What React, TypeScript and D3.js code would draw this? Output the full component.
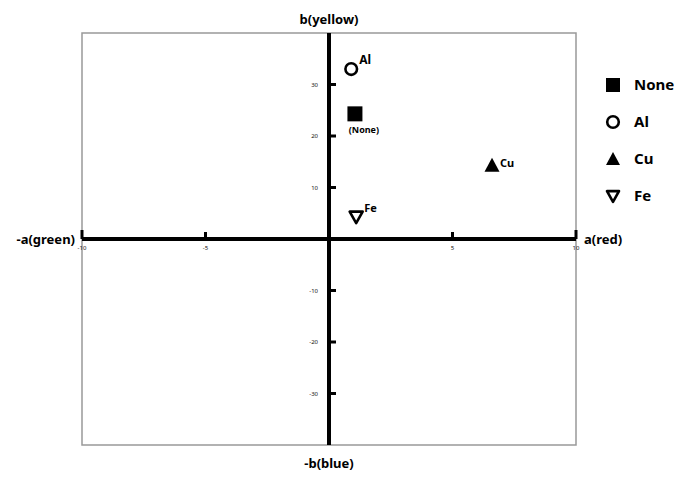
import React from "react";
import * as d3 from "d3";

const samples = ["None", "Al", "Cu", "Fe"];
const aValues = [1.05, 0.9, 6.6, 1.1];
const bValues = [24.3, 33, 14.3, 4.3];
const pointLabels = ["(None)", "Al", "Cu", "Fe"];
const xTicks = [-10, -5, 5, 10];
const yTicks = [30, 20, 10, -10, -20, -30];

const W = 687, H = 478;
const left = 82, right = 576, top = 33, bottom = 445;

function Marker({ kind, x, y, s }: { kind: string; x: number; y: number; s: number }) {
  if (kind === "None") return <rect x={x - s} y={y - s} width={2 * s} height={2 * s} fill="#000" />;
  if (kind === "Al") return <circle cx={x} cy={y} r={s - 1.2} fill="#fff" stroke="#000" strokeWidth={2.6} />;
  if (kind === "Cu") {
    const p = d3.path();
    p.moveTo(x, y - s); p.lineTo(x + s, y + s * 0.85); p.lineTo(x - s, y + s * 0.85); p.closePath();
    return <path d={p.toString()} fill="#000" />;
  }
  const p = d3.path();
  p.moveTo(x - s + 1, y - s * 0.7); p.lineTo(x + s - 1, y - s * 0.7); p.lineTo(x, y + s * 0.85); p.closePath();
  return <path d={p.toString()} fill="#fff" stroke="#000" strokeWidth={2.6} strokeLinejoin="round" />;
}

export default function App() {
  const x = d3.scaleLinear().domain([-10, 10]).range([left, right]);
  const y = d3.scaleLinear().domain([-40, 40]).range([bottom, top]);
  const x0 = x(0), y0 = y(0);
  const font = "'Noto Sans', 'DejaVu Sans', sans-serif";
  return (
    <svg width={W} height={H} style={{ position: "absolute", left: 0, top: 0 }} fontFamily={font}>
      <rect x={0} y={0} width={W} height={H} fill="#fff" />
      <rect x={left} y={top} width={right - left} height={bottom - top} fill="none" stroke="#999" strokeWidth={1.5} />
      <line x1={left} x2={right} y1={y0} y2={y0} stroke="#000" strokeWidth={4} />
      <line x1={x0} x2={x0} y1={top} y2={bottom} stroke="#000" strokeWidth={4} />
      {xTicks.map((t) => (
        <g key={t}>
          <line x1={x(t)} x2={x(t)} y1={y0 - (Math.abs(t) === 10 ? 9 : 7)} y2={y0} stroke="#000" strokeWidth={3} />
          <text x={x(t)} y={y0 + 11} fontSize={6} textAnchor="middle" fill="#111">{t}</text>
        </g>
      ))}
      {yTicks.map((t) => (
        <g key={t}>
          <line x1={x0} x2={x0 + 7} y1={y(t)} y2={y(t)} stroke="#000" strokeWidth={3} />
          <text x={x0 - 11} y={y(t) + 2} fontSize={6} textAnchor="end" fill="#111">{t}</text>
        </g>
      ))}
      <text x={75} y={y0 + 5} fontSize={13} fontWeight="bold" textAnchor="end">-a(green)</text>
      <text x={584} y={y0 + 5} fontSize={13} fontWeight="bold">a(red)</text>
      <text x={x0} y={24} fontSize={13} fontWeight="bold" textAnchor="middle">b(yellow)</text>
      <text x={x0} y={468} fontSize={13} fontWeight="bold" textAnchor="middle">-b(blue)</text>
      {samples.map((s, i) => {
        const px = x(aValues[i]), py = y(bValues[i]);
        return (
          <g key={s}>
            <Marker kind={s} x={px} y={py} s={s === "Al" ? 7 : 7.5} />
            {s === "None" ? (
              <text x={px + 9} y={py + 19} fontSize={9} fontWeight="bold" textAnchor="middle">{pointLabels[i]}</text>
            ) : (
              <text x={px + 8} y={py - (s === "Cu" ? -2 : 5)} fontSize={s === "Al" ? 12 : 11} fontWeight="bold">{pointLabels[i]}</text>
            )}
          </g>
        );
      })}
      {samples.map((s, i) => {
        const ly = 85 + i * 37;
        return (
          <g key={"lg" + s}>
            <Marker kind={s} x={613} y={ly} s={7} />
            <text x={634} y={ly + 5} fontSize={15} fontWeight="bold">{s}</text>
          </g>
        );
      })}
    </svg>
  );
}
